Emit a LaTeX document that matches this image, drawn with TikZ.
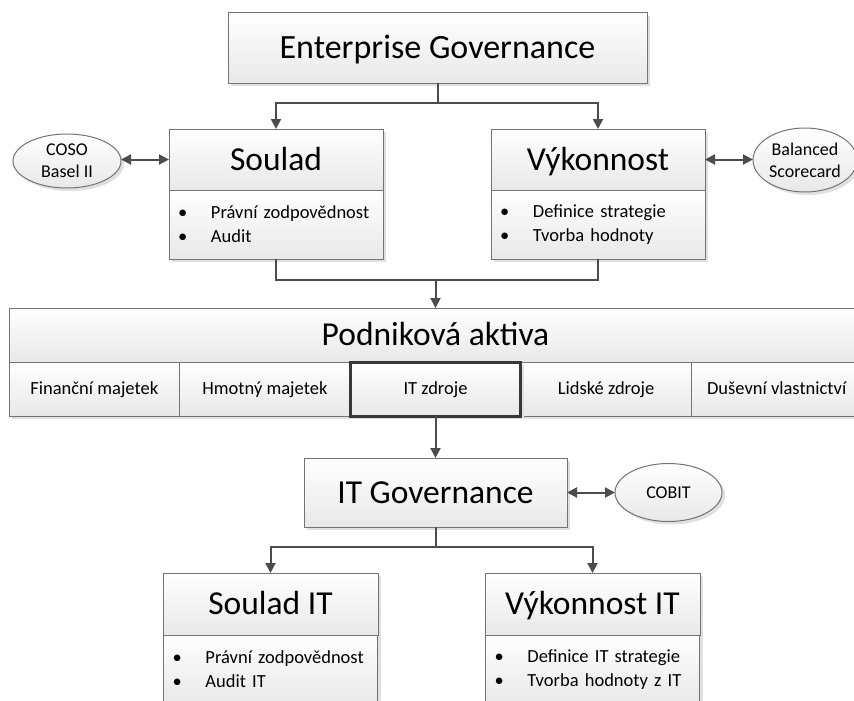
\documentclass[tikz,border=0pt]{standalone}
\usepackage{fontspec}
\setmainfont{Carlito}
\usetikzlibrary{arrows.meta,shapes.geometric,shadows,calc}
\newcommand{\bl}[1]{\makebox[35pt][l]{\hspace{2pt}•}#1}
\tikzset{
  boxstyle/.style={draw=black!55, line width=1pt, top color=white, bottom color=black!9,
    inner sep=0pt, outer sep=0pt,
    drop shadow={shadow xshift=3pt, shadow yshift=-3pt, fill=black!12, opacity=1}},
  bigtitle/.style={boxstyle, font=\fontsize{34}{40}\selectfont, text height=21.9pt, text depth=0pt},
  midtitle/.style={boxstyle, font=\fontsize{33.5}{40}\selectfont, text height=21.6pt, text depth=0pt},
  bodystyle/.style={boxstyle, align=left, anchor=north, text width=200pt, inner xsep=7pt,
    font=\fontsize{18.5}{24}\selectfont},
  cellstyle/.style={boxstyle, font=\fontsize{18.5}{22}\selectfont, text height=11.9pt, text depth=0pt,
    minimum width=170.6pt, minimum height=54pt},
  itcell/.style={cellstyle, draw=black!78, line width=3pt},
  ellstyle/.style={ellipse, boxstyle, align=center, font=\fontsize{18}{22}\selectfont},
  conn/.style={draw=black!70, line width=2pt, -{Triangle[length=10pt,width=10pt]}},
  plainconn/.style={draw=black!70, line width=2pt},
  dbl/.style={draw=black!70, line width=2pt, {Triangle[length=10pt,width=10pt]}-{Triangle[length=10pt,width=10pt]}}
}
\begin{document}
\begin{tikzpicture}[x=1pt,y=-1pt]
\useasboundingbox (0,0) rectangle (854,701);
\fill[white] (0,0) rectangle (854,701);
\clip (0,0) rectangle (854,701);

% Enterprise Governance
\node[bigtitle, minimum width=419pt, minimum height=70pt] (eg) at (437.5,48) {Enterprise Governance};

% Soulad
\node[midtitle, minimum width=214pt, minimum height=61pt] (soulad) at (276,159.5) {Soulad};
\node[bodystyle, minimum height=69pt] (souladb) at (soulad.south) {\bl{Právní zodpovědnost}\\\bl{Audit}};

% Vykonnost
\node[midtitle, minimum width=214pt, minimum height=61pt] (vyk) at (598,159.5) {Výkonnost};
\node[bodystyle, minimum height=69pt] (vykb) at (vyk.south) {\bl{Definice strategie}\\\bl{Tvorba hodnoty}};

% Ellipses
\node[ellstyle, minimum width=108pt, minimum height=54pt] (coso) at (67,161) {COSO\\Basel II};
\node[ellstyle, minimum width=104pt, minimum height=64pt] (bsc) at (805,160) {Balanced\\Scorecard};

% Podnikova aktiva
\node[midtitle, minimum width=853pt, minimum height=54pt] (pa) at (435.5,335) {Podniková aktiva};
\node[cellstyle] (c1) at (94.3,389) {Finanční majetek};
\node[cellstyle] (c2) at (264.9,389) {Hmotný majetek};
\node[cellstyle] (c4) at (606.1,389) {Lidské zdroje};
\node[cellstyle] (c5) at (776.7,389) {Duševní vlastnictví};
\node[itcell] (c3) at (435.5,389) {IT zdroje};

% IT Governance
\node[midtitle, minimum width=263pt, minimum height=69pt] (itg) at (435.5,492.5) {IT Governance};
\node[ellstyle, minimum width=107pt, minimum height=58pt] (cobit) at (668.5,492.5) {COBIT};

% Soulad IT / Vykonnost IT
\node[midtitle, minimum width=215pt, minimum height=62pt] (sit) at (270.5,604) {Soulad IT};
\node[bodystyle, minimum height=69pt] (sitb) at (sit.south) {\bl{Právní zodpovědnost}\\\bl{Audit IT}};
\node[midtitle, minimum width=215pt, minimum height=62pt] (vit) at (592.5,604) {Výkonnost IT};
\node[bodystyle, minimum height=69pt] (vitb) at (vit.south) {\bl{Definice IT strategie}\\\bl{Tvorba hodnoty z IT}};

% junctions
\coordinate (j1) at (437.5,103);
\coordinate (j2) at (435.5,280);
\coordinate (j3) at (435.5,547);

% connectors
\draw[plainconn] (eg.south) -- (j1);
\draw[conn] (j1) -| (soulad.north);
\draw[conn] (j1) -| (vyk.north);
\draw[plainconn] (souladb.south) |- (j2);
\draw[plainconn] (vykb.south) |- (j2);
\draw[conn] (j2) -- (pa.north);
\draw[conn] (c3.south) -- (itg.north);
\draw[plainconn] (itg.south) -- (j3);
\draw[conn] (j3) -| (sit.north);
\draw[conn] (j3) -| (vit.north);
\draw[dbl] (coso.east |- soulad.west) -- (soulad.west);
\draw[dbl] (vyk.east) -- (bsc.west |- vyk.east);
\draw[dbl] (itg.east) -- (cobit.west);
\end{tikzpicture}
\end{document}
